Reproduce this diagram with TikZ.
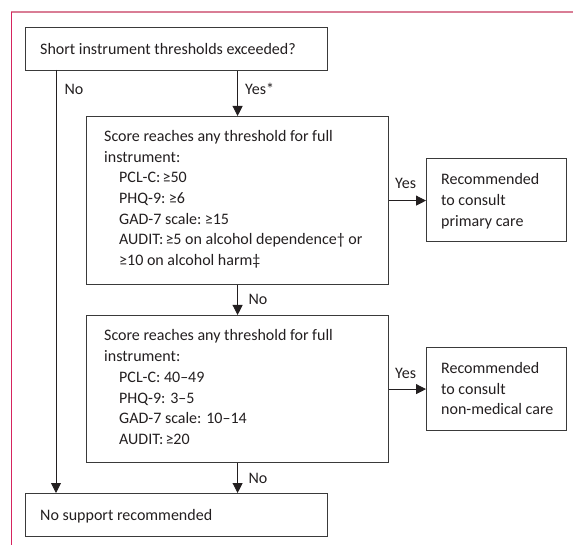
\documentclass[tikz,border=0pt]{standalone}
\usepackage{fontspec}
\setmainfont{Carlito}
\usetikzlibrary{arrows.meta}
\definecolor{framepink}{HTML}{D97D95}
\definecolor{framered}{HTML}{D6245E}
\definecolor{ink}{HTML}{231F20}
\definecolor{boxline}{HTML}{3A3A3A}
\tikzset{
  box/.style={draw=boxline, line width=1.2pt, inner sep=0pt, anchor=north west, fill=white},
  txt/.style={inner sep=0pt, anchor=base west, text=ink, font=\fontsize{16pt}{20.7pt}\selectfont},
  lbl/.style={inner sep=0pt, anchor=base west, text=ink, font=\fontsize{16pt}{20pt}\selectfont},
  arr/.style={draw=ink, line width=0.9pt, -{Triangle[length=10pt,width=10pt]}}
}
\newcommand{\myge}{\kern-1.5pt≥}
\begin{document}
\begin{tikzpicture}[x=1pt,y=-1pt]
\useasboundingbox (0,0) rectangle (573,545);
% frame
\draw[framepink, line width=1.6pt] (11,12) -- (573,12);
\draw[framered, line width=1pt] (11,12) -- (11,545);
% boxes
\node[box, minimum width=302pt, minimum height=43pt] (q) at (25,27) {};
\node[box, minimum width=302pt, minimum height=168pt] (b2) at (86,116) {};
\node[box, minimum width=140pt, minimum height=83pt] (b3) at (426,158) {};
\node[box, minimum width=302pt, minimum height=147pt] (b4) at (86,315) {};
\node[box, minimum width=140pt, minimum height=83pt] (b5) at (426,347) {};
\node[box, minimum width=302pt, minimum height=43pt] (ns) at (25,493) {};
% texts
\node[txt] (tq) at (40,54.3) {Short instrument thresholds exceeded?};
\node[txt] (t2a) at (104,141.5) {\parbox[t]{280pt}{\raggedright
Score reaches any threshold for full\\
instrument:}};
\node[txt] (t2b) at (119,182.9) {\parbox[t]{265pt}{\raggedright
PCL-C: \myge50\\
PHQ-9: \myge6\\
GAD-7 scale: \myge15\\
AUDIT: \myge5 on alcohol dependence† or\\
≥10 on alcohol harm‡}};
\node[txt] (t3) at (441,185) {\parbox[t]{120pt}{\raggedright
Recommended\\
to consult\\
primary care}};
\node[txt] (t4a) at (104,341) {\parbox[t]{280pt}{\raggedright
Score reaches any threshold for full\\
instrument:}};
\node[txt] (t4b) at (119,382.4) {\parbox[t]{265pt}{\raggedright
PCL-C: 40–49\\
PHQ-9: 3–5\\
GAD-7 scale: 10–14\\
AUDIT: \myge20}};
\node[txt] (t5) at (441,373.3) {\parbox[t]{120pt}{\raggedright
Recommended\\
to consult\\
non-medical care}};
\node[txt] (tns) at (40,520) {No support recommended};
% connectors
\coordinate (nl) at (56,70);
\draw[arr] (nl) -- (nl |- ns.north);
\draw[arr] (q.south -| b2.north) -- (b2.north);
\draw[arr] (b2.east) -- (b2.east -| b3.west);
\draw[arr] (b2.south) -- (b4.north);
\draw[arr] (b4.east) -- (b4.east -| b5.west);
\draw[arr] (b4.south) -- (b4.south |- ns.north);
% labels
\node[lbl] (lno1) at (64.3,94.3) {No};
\node[lbl] (lyes1) at (245,94.3) {Yes*};
\node[lbl] (lyes2) at (395,189) {Yes};
\node[lbl] (lno2) at (248.3,305) {No};
\node[lbl] (lyes3) at (395,378.3) {Yes};
\node[lbl] (lno3) at (248.3,483.3) {No};
\end{tikzpicture}
\end{document}
